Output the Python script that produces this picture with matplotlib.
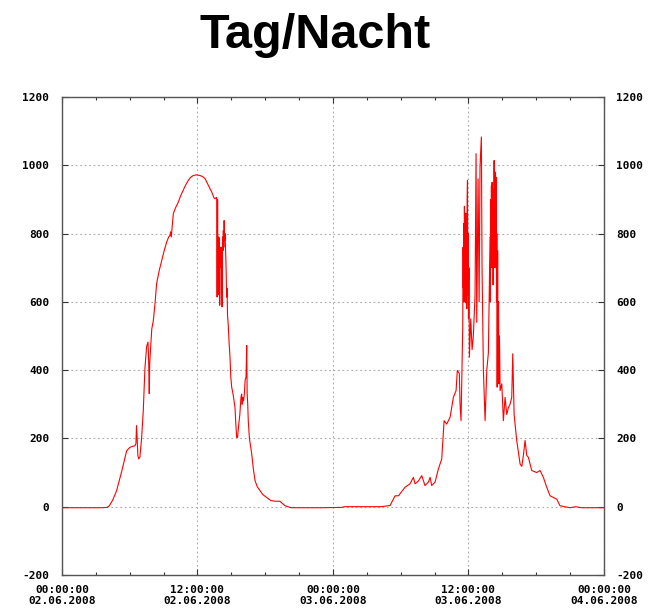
import matplotlib
matplotlib.use('Agg')
import matplotlib.pyplot as plt
from matplotlib.font_manager import FontProperties
from matplotlib.ticker import MultipleLocator

plt.rcParams['axes.unicode_minus'] = False

# hours since 02.06.2008 00:00 (one row per line matches the row in values)
hours = [
    0, 2, 3.5, 4.0, 4.2, 4.5, 4.84, 5.3, 5.73, 5.9,
    6.02, 6.2, 6.47, 6.55, 6.6, 6.66, 6.72, 6.8, 6.9, 7.05,
    7.2, 7.35, 7.5, 7.62, 7.68, 7.73, 7.77, 7.82, 7.95, 8.09,
    8.24, 8.38, 8.6, 8.83, 9.05, 9.27, 9.45, 9.57, 9.62, 9.68,
    9.72, 9.86, 10.05, 10.3, 10.5, 10.74, 10.95, 11.19, 11.4, 11.63,
    11.9, 12.22, 12.45, 12.67, 12.95, 13.26, 13.45, 13.55, 13.70, 13.74,
    13.78, 13.82, 13.88, 13.93, 13.97, 14.02, 14.07, 14.12, 14.18, 14.22,
    14.26, 14.29, 14.33, 14.36, 14.40, 14.44, 14.50, 14.54, 14.58, 14.62,
    14.66, 14.73, 14.80, 14.88, 14.95, 15.03, 15.15, 15.32, 15.40, 15.47,
    15.55, 15.65, 15.75, 15.85, 15.91, 15.96, 16.02, 16.08, 16.15, 16.22,
    16.30, 16.36, 16.40, 16.45, 16.50, 16.60, 16.80, 16.95, 17.10, 17.30,
    17.54, 17.80, 18.13, 18.50, 18.90, 19.3, 19.5, 19.75, 20.0, 20.3,
    22.0, 23.0, 24.8, 25.0, 27.0, 28.17, 28.5, 28.9, 29.05, 29.5,
    29.8, 30.38, 30.82, 31.12, 31.27, 31.56, 31.86, 32.15, 32.45, 32.6,
    32.74, 33.04, 33.33, 33.63, 33.84, 34.07, 34.37, 34.66, 34.9, 35.01,
    35.19, 35.25, 35.34, 35.49, 35.52, 35.55, 35.58, 35.61, 35.64, 35.67,
    35.70, 35.73, 35.76, 35.79, 35.82, 35.85, 35.88, 35.91, 35.94, 35.97,
    36.00, 36.04, 36.08, 36.2, 36.32, 36.43, 36.58, 36.67, 36.73, 36.85,
    36.94, 37.02, 37.14, 37.2, 37.32, 37.47, 37.62, 37.76, 37.91, 37.94,
    37.97, 38.00, 38.03, 38.06, 38.09, 38.12, 38.15, 38.18, 38.21, 38.24,
    38.27, 38.30, 38.33, 38.36, 38.39, 38.42, 38.45, 38.48, 38.51, 38.54,
    38.58, 38.62, 38.66, 38.70, 38.74, 38.80, 38.95, 39.09, 39.24, 39.39,
    39.53, 39.68, 39.83, 39.92, 40.04, 40.27, 40.57, 40.72, 40.86, 41.01,
    41.16, 41.3, 41.6, 42.04, 42.34, 42.63, 42.93, 43.22, 43.82, 44.1,
    44.5, 45.0, 45.5, 46.0, 48.0,
]
values = [
    -3, -3, -3, -2, 3, 20, 47, 105, 164, 170,
    174, 176, 179, 185, 237, 200, 150, 140, 145, 200,
    281, 408, 470, 482, 420, 331, 420, 450, 520, 545,
    595, 653, 690, 721, 750, 775, 790, 795, 805, 790,
    805, 858, 875, 892, 910, 927, 942, 956, 965, 970,
    972, 970, 967, 961, 942, 922, 905, 902, 906, 614,
    900, 620, 790, 785, 590, 760, 700, 760, 585, 790,
    750, 809, 760, 838, 780, 800, 740, 690, 614, 640,
    560, 530, 480, 438, 380, 350, 330, 291, 240, 203,
    203, 240, 270, 320, 330, 300, 320, 310, 330, 370,
    380, 472, 330, 300, 250, 200, 155, 110, 76, 58,
    47, 35, 27, 18, 16, 16, 10, 3, 0, -3,
    -3, -3, -2, 0, 0, 0, 1, 3, 3, 32,
    32, 57, 67, 86, 67, 75, 91, 62, 72, 86,
    62, 72, 110, 140, 252, 242, 262, 320, 340, 399,
    390, 302, 252, 525, 760, 640, 829, 600, 880, 620,
    800, 597, 860, 640, 760, 580, 900, 956, 620, 800,
    550, 700, 438, 550, 460, 500, 620, 1034, 540, 960,
    600, 995, 1083, 700, 399, 252, 400, 450, 790, 600,
    900, 700, 940, 760, 950, 700, 930, 650, 900, 700,
    1014, 760, 960, 700, 980, 790, 965, 600, 800, 350,
    750, 400, 600, 360, 500, 340, 360, 252, 320, 270,
    290, 300, 320, 448, 270, 194, 125, 118, 150, 194,
    150, 145, 106, 100, 106, 86, 57, 32, 22, 3,
    0, -3, 0, -3, -3,
]

tick_hours = [0, 12, 24, 36, 48]
tick_labels = ['00:00:00\n02.06.2008', '12:00:00\n02.06.2008', '00:00:00\n03.06.2008',
               '12:00:00\n03.06.2008', '00:00:00\n04.06.2008']

fig = plt.figure(figsize=(6.51, 6.10), dpi=100)
ax = fig.add_axes([0.0952, 0.0574, 0.8326, 0.7836])

ax.plot(hours, values, color='#ff0000', lw=0.8)

ax.set_xlim(0, 48)
ax.set_ylim(-200, 1200)
ax.set_xticks(tick_hours)
ax.set_xticklabels(tick_labels)
ax.xaxis.set_minor_locator(MultipleLocator(3))
ax.yaxis.set_major_locator(MultipleLocator(200))

ax.tick_params(which='major', direction='in', length=4.3, width=0.8, color='#333333',
               top=True, right=True, labelright=True, pad=7)
ax.tick_params(which='minor', direction='in', length=2.2, width=0.8, color='#333333',
               top=True, bottom=True)
ax.tick_params(axis='y', which='minor', left=False, right=False)
ax.tick_params(axis='y', which='major', pad=9)

tick_font = FontProperties(family='DejaVu Sans Mono', weight='bold', size=8)
for t in ax.xaxis.get_major_ticks() + ax.yaxis.get_major_ticks():
    t.label1.set_fontproperties(tick_font)
    t.label2.set_fontproperties(tick_font)

ax.grid(True, which='major', linestyle=(0, (1.5, 2.5)), color='#aaaaaa', lw=0.8)

for s in ax.spines.values():
    s.set_color('#555555')
    s.set_linewidth(1.0)

fig.text(0.484, 0.922, 'Tag/Nacht', ha='center', va='baseline',
         fontsize=35, fontweight='bold', family='Liberation Sans')

fig.savefig('out.png', dpi=100)
